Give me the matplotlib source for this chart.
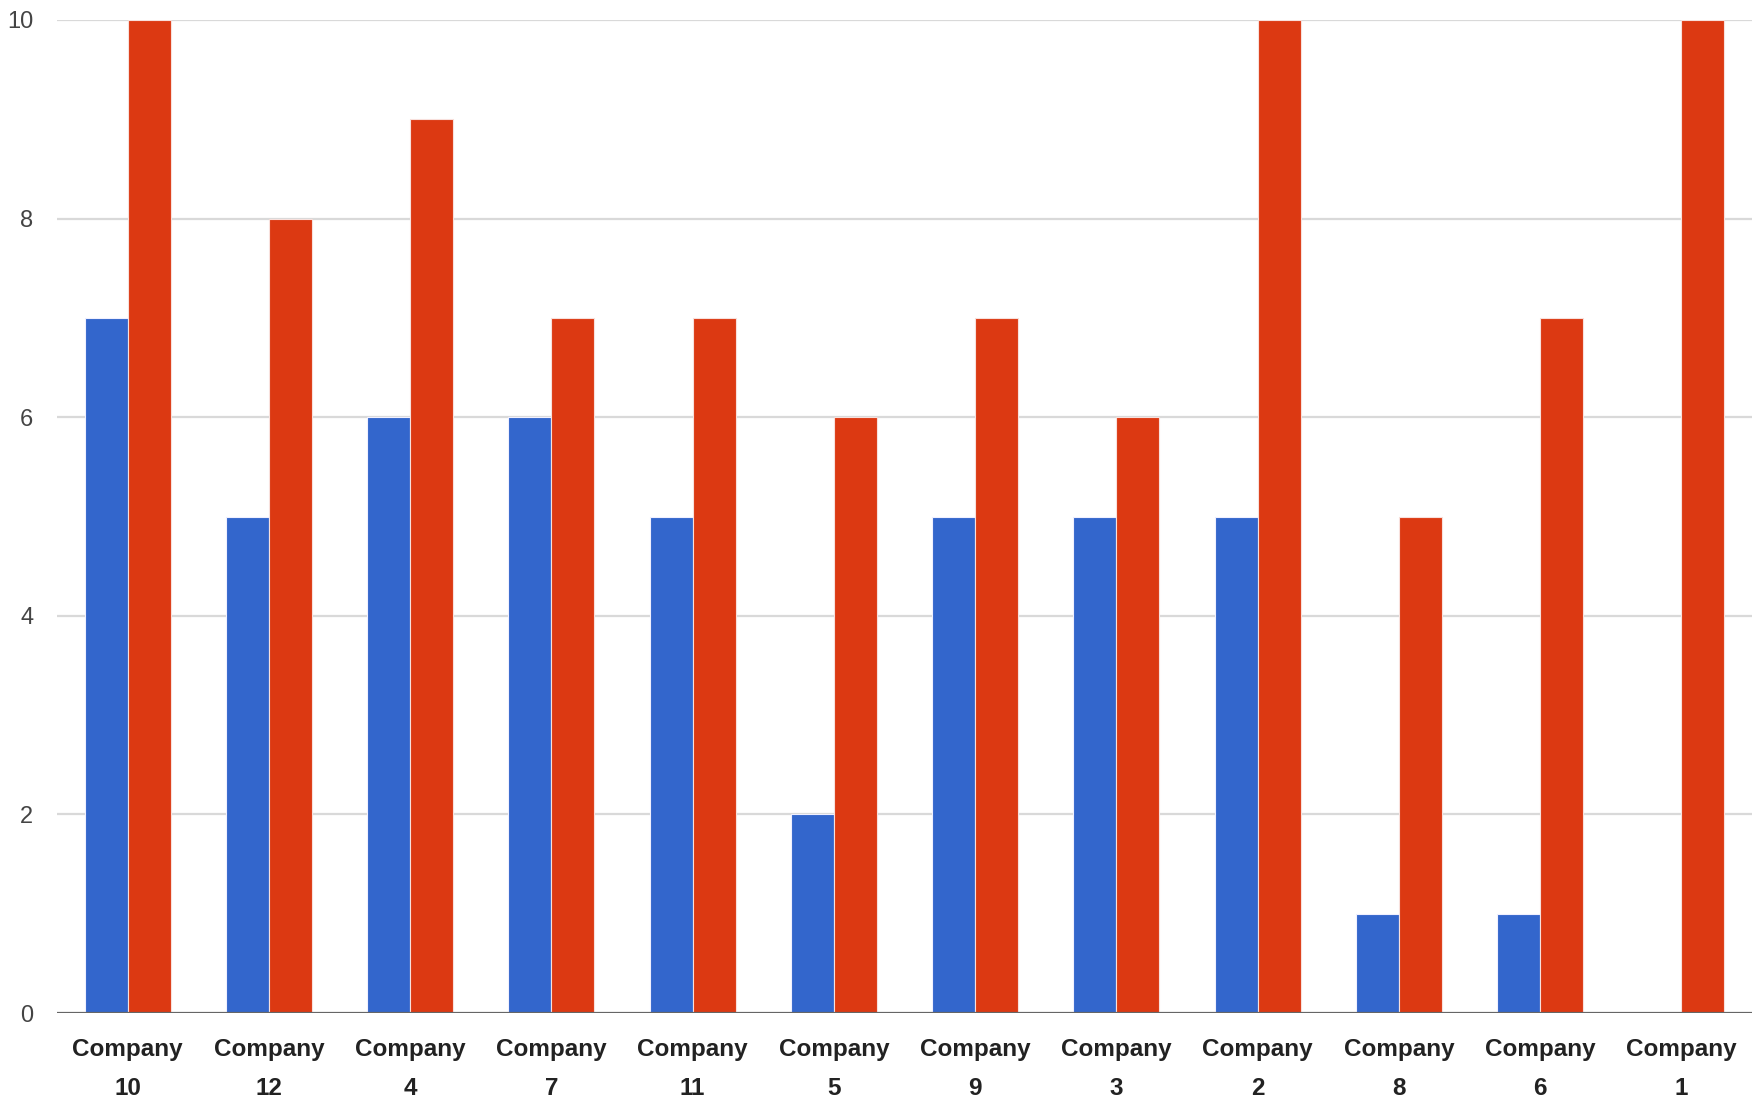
import matplotlib
matplotlib.use("Agg")
import matplotlib.pyplot as plt
import numpy as np

categories = ["Company\n10", "Company\n12", "Company\n4", "Company\n7", "Company\n11",
              "Company\n5", "Company\n9", "Company\n3", "Company\n2", "Company\n8",
              "Company\n6", "Company\n1"]
series_blue = [7, 5, 6, 6, 5, 2, 5, 5, 5, 1, 1, 0]
series_red = [10, 8, 9, 7, 7, 6, 7, 6, 10, 5, 7, 10]
y_ticks = [0, 2, 4, 6, 8, 10]

BLUE = "#3366CC"
RED = "#DC3912"
FONT = ["Liberation Sans", "DejaVu Sans"]

fig = plt.figure(figsize=(17.58, 11.03), dpi=100)
ax = fig.add_axes([57/1758, 90/1103, (1752-57)/1758, (1013-20)/1103])

x = np.arange(len(categories))
w = 0.305
ax.bar(x - w/2, series_blue, width=w, color=BLUE, edgecolor="#f0f0ff", linewidth=0.8, zorder=2)
ax.bar(x + w/2, series_red, width=w, color=RED, edgecolor="#f8e0dc", linewidth=0.8, zorder=2)

ax.set_xlim(-0.5, len(categories) - 0.5)
ax.set_ylim(0, 10)
ax.set_yticks(y_ticks)
ax.set_yticklabels([str(t) for t in y_ticks], family=FONT, fontsize=17, color="#444444")
ax.set_xticks(x)
ax.set_xticklabels(categories, family=FONT, fontsize=17.5, fontweight="bold",
                   color="#222222", linespacing=1.9)
ax.tick_params(axis="both", length=0)
ax.tick_params(axis="x", pad=18)
ax.tick_params(axis="y", pad=17)

for t in y_ticks[1:]:
    ax.axhline(t, color="#d9d9d9", linewidth=1.6, zorder=1)
ax.axhline(0, color="#666666", linewidth=1.6, zorder=3)

for s in ax.spines.values():
    s.set_visible(False)

fig.savefig("out.png", dpi=100, facecolor="white")
